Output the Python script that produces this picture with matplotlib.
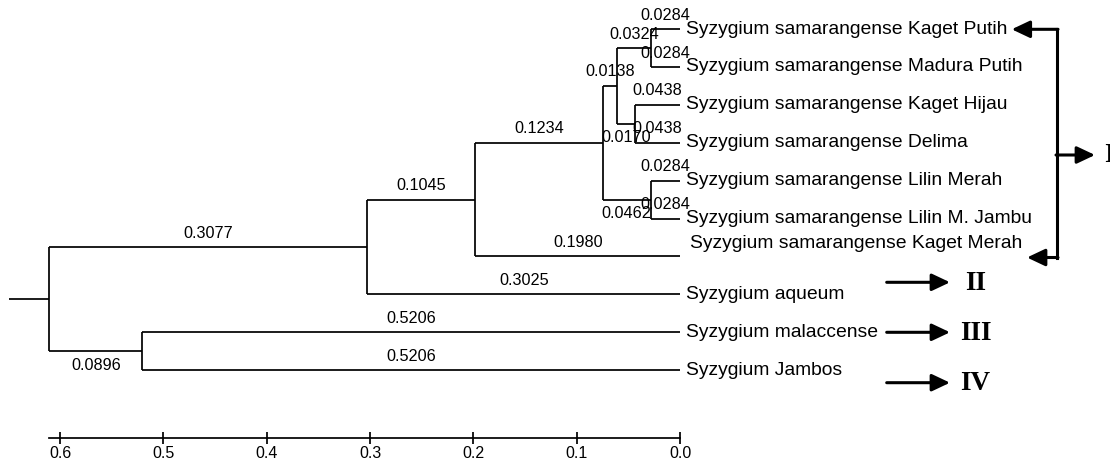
import matplotlib
matplotlib.use("Agg")
import matplotlib.pyplot as plt
from matplotlib.lines import Line2D

# ---------------- data ----------------
tips = [
    "Syzygium samarangense Kaget Putih",
    "Syzygium samarangense Madura Putih",
    "Syzygium samarangense Kaget Hijau",
    "Syzygium samarangense Delima",
    "Syzygium samarangense Lilin Merah",
    "Syzygium samarangense Lilin M. Jambu",
    "Syzygium samarangense Kaget Merah",
    "Syzygium aqueum",
    "Syzygium malaccense",
    "Syzygium Jambos",
]
tip_branch = [0.0284, 0.0284, 0.0438, 0.0438, 0.0284, 0.0284, 0.1980, 0.3025, 0.5206, 0.5206]

# internal nodes: children (tip index or node name) and branch length to parent
node_names = ["A", "B", "C", "D", "E", "F", "G", "H", "root"]
node_children = [(0, 1), (2, 3), ("A", "B"), (4, 5), ("C", "D"), ("E", 6), ("F", 7), (8, 9), ("G", "H")]
node_branch = [0.0324, 0.0170, 0.0138, 0.0462, 0.1234, 0.1045, 0.3077, 0.0896, None]

scale_ticks = [0.0, 0.1, 0.2, 0.3, 0.4, 0.5, 0.6]
cluster_labels = ["I", "II", "III", "IV"]

# ---------------- layout ----------------
W, Hpx = 1110, 463
PX_PER_UNIT = 1033.3
X_ZERO_PX = 680.0
ROW0_PX = 29.0
ROW_PX = 37.9

fig = plt.figure(figsize=(W / 100, Hpx / 100), dpi=100)
ax = fig.add_axes([0, 0, 1, 1])
ax.set_xlim(X_ZERO_PX / PX_PER_UNIT, (X_ZERO_PX - W) / PX_PER_UNIT)
ax.set_ylim((Hpx - ROW0_PX) / ROW_PX, -ROW0_PX / ROW_PX)

LW = 1.25
SANS = "Liberation Sans"
SERIF = "Liberation Serif"

# compute positions
pos = {}  # key -> (height, y)
for i in range(len(tips)):
    pos[i] = (0.0, float(i))
blen = {i: tip_branch[i] for i in range(len(tips))}
for name, ch, bl in zip(node_names, node_children, node_branch):
    c0, c1 = ch
    h = pos[c0][0] + blen[c0]
    y = (pos[c0][1] + pos[c1][1]) / 2
    pos[name] = (h, y)
    blen[name] = bl

below = {"H", "B", "D"}
for name, ch in zip(node_names, node_children):
    h, y = pos[name]
    ys = [pos[c][1] for c in ch]
    ax.plot([h, h], [min(ys), max(ys)], color="black", lw=LW, solid_capstyle="butt")
    for c in ch:
        ch_h, ch_y = pos[c]
        ax.plot([h, ch_h], [ch_y, ch_y], color="black", lw=LW, solid_capstyle="butt")
        dy = -10.0 if c in below else 10.0
        ax.annotate(f"{blen[c]:.4f}", ((h + ch_h) / 2, ch_y), xytext=(0, dy),
                    textcoords="offset points", ha="center", va="center",
                    fontsize=11.7, family=SANS)

# root stub
rh, ry = pos["root"]
ax.plot([rh, rh + 0.039], [ry, ry], color="black", lw=LW, solid_capstyle="butt")

# tip labels
tip_shift = {6: (10.0, 13.4)}
for i, name in enumerate(tips):
    dx, dy = tip_shift.get(i, (6.5, 0.0))
    ax.annotate(name, (0.0, i), xytext=(dx * 0.72, dy * 0.72), textcoords="offset points",
                ha="left", va="center", fontsize=13.9, family=SANS)

# scale bar on the bottom spine
for s in ["top", "left", "right"]:
    ax.spines[s].set_visible(False)
ax.spines["bottom"].set_position(("data", (437.7 - ROW0_PX) / ROW_PX))
ax.spines["bottom"].set_bounds(0.0, rh)
ax.spines["bottom"].set_linewidth(LW)
ax.set_xticks(scale_ticks)
ax.set_xticklabels([f"{t:.1f}" for t in scale_ticks])
ax.tick_params(axis="x", direction="inout", length=8.6, width=LW, labelsize=11.5, pad=1.5)
for lab in ax.get_xticklabels():
    lab.set_family(SANS)
ax.set_yticks([])
ax.patch.set_visible(False)


# ---------------- cluster arrows (figure pixels) ----------------
def fp(x, y):
    return (x / W, 1 - y / Hpx)


ARW = dict(arrowstyle="-|>,head_length=0.55,head_width=0.26", lw=2.2, color="black",
           shrinkA=0, shrinkB=0, mutation_scale=20)

# bracket for cluster I
fig.add_artist(Line2D([1057 / W, 1057 / W], [1 - 29.3 / Hpx, 1 - 257.5 / Hpx],
                      transform=fig.transFigure, color="black", lw=2.2))
for y, x_tip in [(29.3, 1011.7), (257.5, 1027.0)]:
    ax.annotate("", xy=fp(x_tip, y), xytext=fp(1058, y), xycoords="figure fraction",
                textcoords="figure fraction", arrowprops=ARW)
ax.annotate("", xy=fp(1095, 155), xytext=fp(1056, 155), xycoords="figure fraction",
            textcoords="figure fraction", arrowprops=ARW)

numeral_pos = [(1104, 155), (965, 283), (960, 333), (960, 384)]
arrow_rows = [282.3, 332.3, 382.7]
for y in arrow_rows:
    ax.annotate("", xy=fp(950, y), xytext=fp(886.7, y), xycoords="figure fraction",
                textcoords="figure fraction", arrowprops=ARW)
for lab, (x, y) in zip(cluster_labels, numeral_pos):
    fig.text(x / W, 1 - y / Hpx, lab, ha="left", va="center", fontsize=19.5,
             fontweight="bold", family=SERIF)

fig.savefig("out.png", dpi=100, facecolor="white")
